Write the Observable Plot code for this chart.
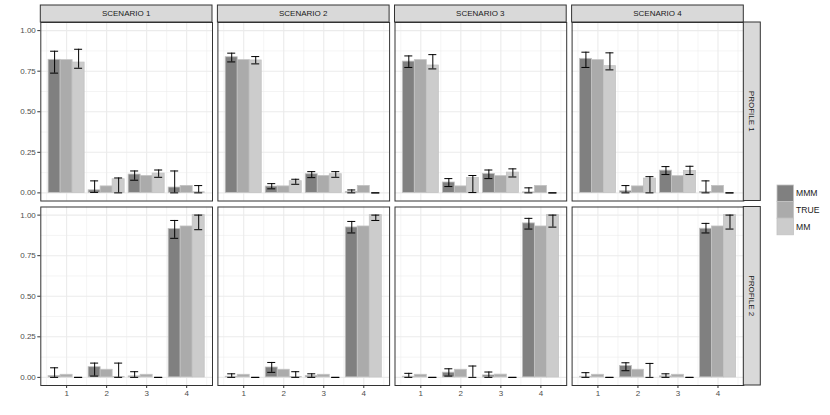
<!DOCTYPE html>
<html><head><meta charset="utf-8">
<script src="https://cdn.jsdelivr.net/npm/d3@7"></script>
<script src="https://cdn.jsdelivr.net/npm/@observablehq/plot@0.6"></script>
<style>html,body{margin:0;padding:0;background:#fff;} svg{display:block}</style>
</head><body><div id="chart"></div>
<script>
// ---------- data ----------
const scenarios = ["SCENARIO 1", "SCENARIO 2", "SCENARIO 3", "SCENARIO 4"];
const profiles = ["PROFILE 1", "PROFILE 2"];
const categories = [1, 2, 3, 4];
const series = ["MMM", "TRUE", "MM"];
const xTicks = [1, 2, 3, 4];
const yTicks = [0, 0.25, 0.5, 0.75, 1];

// rows = scenarios, columns = categories
const mmmP1 = [[0.820, 0.016, 0.113, 0.033], [0.836, 0.039, 0.115, 0.005], [0.809, 0.064, 0.117, 0.003], [0.826, 0.010, 0.137, 0.006]];
const mmmLoP1 = [[0.738, 0.003, 0.078, 0.0], [0.807, 0.025, 0.094, 0.0], [0.773, 0.039, 0.088, 0.0], [0.773, 0.0, 0.113, 0.0]];
const mmmHiP1 = [[0.873, 0.074, 0.135, 0.135], [0.861, 0.057, 0.131, 0.018], [0.844, 0.088, 0.141, 0.031], [0.867, 0.045, 0.162, 0.074]];
const trueP1 = [[0.818, 0.040, 0.104, 0.043], [0.818, 0.040, 0.104, 0.043], [0.818, 0.040, 0.103, 0.043], [0.818, 0.040, 0.103, 0.043]];
const mmP1 = [[0.803, 0.084, 0.119, 0.004], [0.816, 0.072, 0.115, 0.0], [0.785, 0.092, 0.125, 0.0], [0.781, 0.088, 0.135, 0.0]];
const mmLoP1 = [[0.768, 0.0, 0.096, 0.0], [0.795, 0.053, 0.096, 0.0], [0.764, 0.002, 0.098, 0.0], [0.758, 0.0, 0.113, 0.0]];
const mmHiP1 = [[0.885, 0.092, 0.141, 0.045], [0.840, 0.084, 0.131, 0.0], [0.852, 0.107, 0.148, 0.0], [0.863, 0.100, 0.164, 0.0]];

const mmmP2 = [[0.008, 0.063, 0.006, 0.914], [0.004, 0.061, 0.008, 0.924], [0.004, 0.029, 0.012, 0.949], [0.004, 0.070, 0.006, 0.916]];
const mmmLoP2 = [[0.0, 0.008, 0.0, 0.857], [0.0, 0.031, 0.0, 0.890], [0.0, 0.008, 0.0, 0.914], [0.0, 0.041, 0.0, 0.890]];
const mmmHiP2 = [[0.059, 0.088, 0.035, 0.967], [0.022, 0.092, 0.022, 0.961], [0.025, 0.053, 0.033, 0.980], [0.029, 0.090, 0.022, 0.949]];
const trueP2 = [[0.016, 0.047, 0.016, 0.930], [0.016, 0.047, 0.016, 0.930], [0.016, 0.047, 0.017, 0.930], [0.016, 0.047, 0.016, 0.930]];
const mmP2 = [[0.0, 0.002, 0.0, 1.0], [0.0, 0.002, 0.0, 1.0], [0.0, 0.0, 0.0, 1.0], [0.0, 0.0, 0.0, 1.0]];
const mmLoP2 = [[0.0, 0.0, 0.0, 0.910], [0.0, 0.0, 0.0, 0.967], [0.0, 0.0, 0.0, 0.926], [0.0, 0.0, 0.0, 0.914]];
const mmHiP2 = [[0.0, 0.088, 0.0, 1.0], [0.0, 0.035, 0.0, 1.0], [0.0, 0.070, 0.0, 1.0], [0.0, 0.086, 0.0, 1.0]];

const colors = ["#808080", "#ABABAB", "#CCCCCC"];

// ---------- tables ----------
const valueTable = {MMM: [mmmP1, mmmP2], TRUE: [trueP1, trueP2], MM: [mmP1, mmP2]};
const loTable = {MMM: [mmmLoP1, mmmLoP2], MM: [mmLoP1, mmLoP2]};
const hiTable = {MMM: [mmmHiP1, mmmHiP2], MM: [mmHiP1, mmHiP2]};
const dodge = {MMM: -0.3, TRUE: 0, MM: 0.3};
const halfBar = 0.15, halfCap = 0.1;

const bars = [], errs = [];
profiles.forEach((p, pi) => scenarios.forEach((s, si) => categories.forEach((c, ci) => series.forEach(k => {
  const row = {profile: p, scenario: s, cat: c, series: k, value: valueTable[k][pi][si][ci]};
  bars.push(row);
  if (loTable[k]) errs.push({...row, lo: loTable[k][pi][si][ci], hi: hiTable[k][pi][si][ci]});
}))));

// ---------- layout ----------
const W = 830, H = 415;
const mL = 40.3, mR = W - 743.3, mT = 22, mB = 30;
const font = "'Liberation Sans', Arial, Helvetica, sans-serif";

const facet = {fx: "scenario", fy: "profile"};
const plot = Plot.plot({
  width: W, height: H,
  marginLeft: mL, marginRight: mR, marginTop: mT, marginBottom: mB,
  style: {fontFamily: font, fontSize: "8px", background: "#fff", overflow: "visible"},
  fx: {domain: scenarios, paddingInner: 0.0305, paddingOuter: 0, round: false, axis: null, label: null},
  fy: {domain: profiles, paddingInner: 0.0325, paddingOuter: 0, round: false, axis: null, label: null},
  x: {domain: [0.355, 4.645], label: null},
  y: {domain: [-0.05, 1.05], label: null},
  color: {domain: series, range: colors},
  marks: [
    Plot.gridY({ticks: [0.125, 0.375, 0.625, 0.875], stroke: "#ebebeb", strokeOpacity: 1, strokeWidth: 0.55}),
    Plot.gridX({ticks: [0.5, 1.5, 2.5, 3.5, 4.5], stroke: "#ebebeb", strokeOpacity: 1, strokeWidth: 0.55}),
    Plot.gridY({ticks: yTicks, stroke: "#ebebeb", strokeOpacity: 1, strokeWidth: 1.1}),
    Plot.gridX({ticks: xTicks, stroke: "#ebebeb", strokeOpacity: 1, strokeWidth: 1.1}),
    Plot.rect(bars, {
      ...facet,
      x1: d => d.cat + dodge[d.series] - halfBar,
      x2: d => d.cat + dodge[d.series] + halfBar,
      y1: d => 0, y2: "value",
      fill: "series", stroke: "#c2c2c2", strokeWidth: 0.8
    }),
    Plot.ruleX(errs, {...facet, x: d => d.cat + dodge[d.series], y1: "lo", y2: "hi", stroke: "#000", strokeWidth: 1}),
    Plot.ruleY(errs, {...facet, y: "lo", x1: d => d.cat + dodge[d.series] - halfCap, x2: d => d.cat + dodge[d.series] + halfCap, stroke: "#000", strokeWidth: 1}),
    Plot.ruleY(errs, {...facet, y: "hi", x1: d => d.cat + dodge[d.series] - halfCap, x2: d => d.cat + dodge[d.series] + halfCap, stroke: "#000", strokeWidth: 1}),
    Plot.frame({stroke: "#333333", strokeWidth: 1}),
    Plot.axisX({ticks: xTicks, tickFormat: d3.format("d"), tickSize: 3, tickPadding: 2, stroke: "#333333", fill: "#4d4d4d", fontSize: 8, label: null}),
    Plot.axisY({ticks: yTicks, tickFormat: d3.format(".2f"), tickSize: 3, tickPadding: 2, stroke: "#333333", fill: "#4d4d4d", fontSize: 8, label: null})
  ]
});

// ---------- strips & legend ----------
const svg = d3.select(plot);
const fxs = plot.scale("fx"), fys = plot.scale("fy");
const fxApply = fxs.apply ? (v => fxs.apply(v)) : d3.scaleBand().domain(scenarios).range([mL, W - mR]).paddingInner(0.0305);
const fyApply = fys.apply ? (v => fys.apply(v)) : d3.scaleBand().domain(profiles).range([mT, H - mB]).paddingInner(0.0325);
const fxBw = fxs.bandwidth, fyBw = fys.bandwidth;

const strips = svg.append("g").attr("font-family", font).attr("font-size", 8);
scenarios.forEach(s => {
  const x0 = fxApply(s);
  strips.append("rect").attr("x", x0).attr("y", 5).attr("width", fxBw).attr("height", mT - 5)
    .attr("fill", "#d9d9d9").attr("stroke", "#333333").attr("stroke-width", 1);
  strips.append("text").attr("x", x0 + fxBw / 2).attr("y", 5 + (mT - 5) / 2)
    .attr("text-anchor", "middle").attr("dominant-baseline", "central").attr("fill", "#1a1a1a").text(s);
});
const rx = W - mR, rw = 17;
profiles.forEach(p => {
  const y0 = fyApply(p);
  strips.append("rect").attr("x", rx).attr("y", y0).attr("width", rw).attr("height", fyBw)
    .attr("fill", "#d9d9d9").attr("stroke", "#333333").attr("stroke-width", 1);
  strips.append("text").attr("transform", `translate(${rx + rw / 2},${y0 + fyBw / 2}) rotate(90)`)
    .attr("text-anchor", "middle").attr("dominant-baseline", "central").attr("fill", "#1a1a1a").text(p);
});

const color = plot.scale("color");
const legend = svg.append("g").attr("font-family", font).attr("font-size", 8.6);
const keyX = 777, keyY = 185, keyW = 16.5, keyH = 16.6;
series.forEach((k, i) => {
  legend.append("rect").attr("x", keyX).attr("y", keyY + i * keyH).attr("width", keyW).attr("height", keyH)
    .attr("fill", color.apply ? color.apply(k) : colors[i]).attr("stroke", "#c2c2c2").attr("stroke-width", 0.8);
  legend.append("text").attr("x", keyX + keyW + 2.5).attr("y", keyY + i * keyH + keyH / 2)
    .attr("text-anchor", "start").attr("dominant-baseline", "central").attr("fill", "#1a1a1a").text(k);
});

document.getElementById("chart").appendChild(plot);
</script>
</body></html>
